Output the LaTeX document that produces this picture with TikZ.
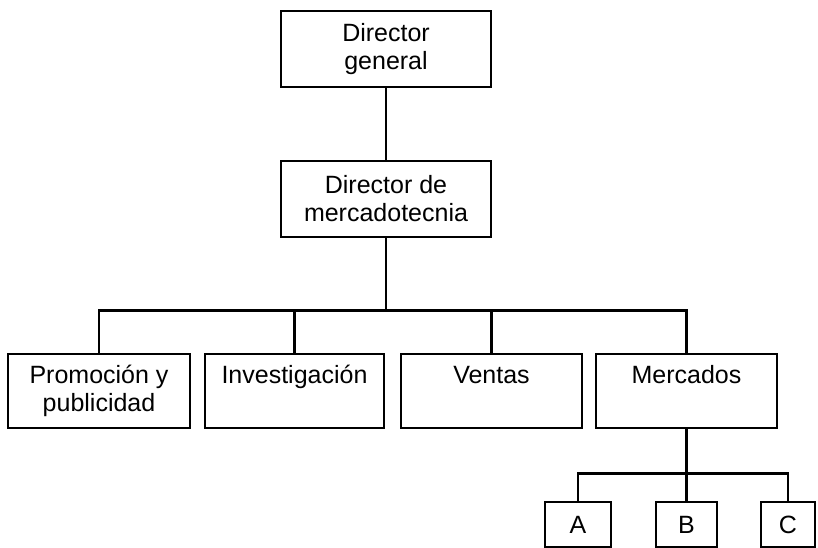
\documentclass[tikz,border=0pt]{standalone}
\usepackage{fontspec}
\setmainfont{Liberation Sans}
\usetikzlibrary{positioning}

\begin{document}
\begin{tikzpicture}[
    x=1pt, y=1pt,
    font=\fontsize{25}{28}\selectfont,
    headbox/.style={
        draw,
        line width=2.8pt,
        align=center,
        inner sep=0pt,
        minimum width=210pt,
        minimum height=76pt
    },
    deptbox/.style={
        draw,
        line width=2.8pt,
        align=center,
        inner sep=0pt,
        minimum width=#1,
        text height=30pt,
        text depth=44pt
    },
    deptbox/.default=181pt,
    tinybox/.style={
        draw,
        line width=2.8pt,
        inner sep=0pt,
        minimum width=#1,
        minimum height=45pt
    },
    link/.style={draw=black, line width=2.8pt}
]
\useasboundingbox (0,0) rectangle (818,548);

\node[headbox] (general) at (386,499) {Director\\general};
\node[headbox] (mkt) at (386,349) {Director de\\mercadotecnia};

\node[deptbox=182pt, text height=58pt, text depth=16pt] (promo) at (99,157) {Promoción y\\publicidad};
\node[deptbox=179pt] (invest) at (294.5,157) {Investigación};
\node[deptbox] (ventas) at (491.5,157) {Ventas};
\node[deptbox] (mercados) at (686.5,157) {Mercados};

\node[tinybox=66pt] (a) at (578,23.5) {A};
\node[tinybox=61pt] (b) at (686.5,23.5) {B};
\node[tinybox=54pt] (c) at (788,23.5) {C};

\draw[link] (general) -- (mkt);
\draw[link] (mkt.south) -- ++(0,-72) coordinate (bus);
\draw[link] (promo.north) |- (bus) -| (mercados.north);
\draw[link] (invest.north) -- (invest.north |- bus);
\draw[link] (ventas.north) -- (ventas.north |- bus);

\draw[link] (mercados.south) -- ++(0,-44) coordinate (sub);
\draw[link] (a.north) |- (sub) -| (c.north);
\draw[link] (b.north) -- (sub);

\end{tikzpicture}
\end{document}
